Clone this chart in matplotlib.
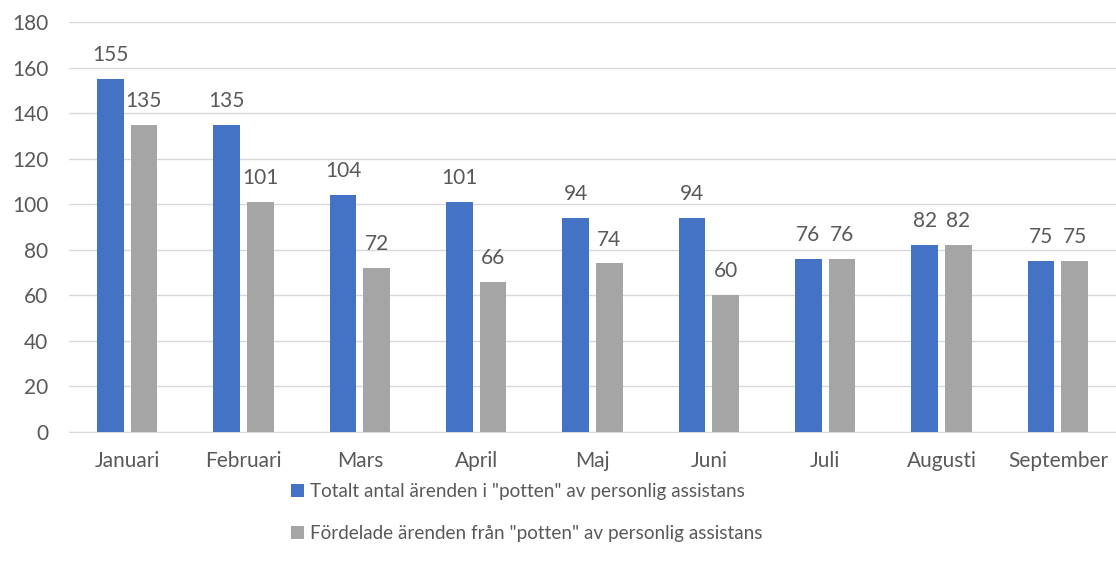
import matplotlib.pyplot as plt
import numpy as np

plt.rcParams['font.family'] = ['Lato', 'DejaVu Sans']

months = ['Januari', 'Februari', 'Mars', 'April', 'Maj', 'Juni', 'Juli', 'Augusti', 'September']
totalt = [155, 135, 104, 101, 94, 94, 76, 82, 75]
fordelade = [135, 101, 72, 66, 74, 60, 76, 82, 75]
label_totalt = 'Totalt antal ärenden i "potten" av personlig assistans'
label_fordelade = 'Fördelade ärenden från "potten" av personlig assistans'

blue = '#4472C4'
gray = '#A5A5A5'
text_col = '#595959'

fig = plt.figure(figsize=(11.16, 5.72), dpi=100)
ax = fig.add_axes([69 / 1116, 140 / 572, 1 - 69 / 1116, 410 / 572])

x = np.arange(len(months))
w = 0.228
off = w / 2 + 0.03
b1 = ax.bar(x - off, totalt, w, color=blue, label=label_totalt, zorder=3)
b2 = ax.bar(x + off, fordelade, w, color=gray, label=label_fordelade, zorder=3)

for bars in (b1, b2):
    for rect in bars:
        h = rect.get_height()
        ax.annotate(f'{h:.0f}', (rect.get_x() + rect.get_width() / 2, h),
                    xytext=(0, 10), textcoords='offset points',
                    ha='center', va='bottom', fontsize=15, color=text_col)

ax.set_xlim(-0.5, len(months) - 0.5)
ax.set_ylim(0, 180)
ax.set_yticks(range(0, 181, 20))
ax.set_xticks(x)
ax.set_xticklabels(months)
ax.tick_params(axis='both', length=0, labelsize=15, colors=text_col)
ax.tick_params(axis='x', pad=14)
ax.tick_params(axis='y', pad=15)
ax.grid(axis='y', color='#D9D9D9', linewidth=1, zorder=0)
for s in ['top', 'right', 'left']:
    ax.spines[s].set_visible(False)
ax.spines['bottom'].set_color('#D9D9D9')

fig.legend(loc='upper center', bbox_to_anchor=(0.472, 0.185), ncol=1, frameon=False,
           fontsize=13.6, labelcolor=text_col, handlelength=0.7, handleheight=0.7,
           handletextpad=0.3, labelspacing=1.3)

fig.savefig('out.png', dpi=100)
